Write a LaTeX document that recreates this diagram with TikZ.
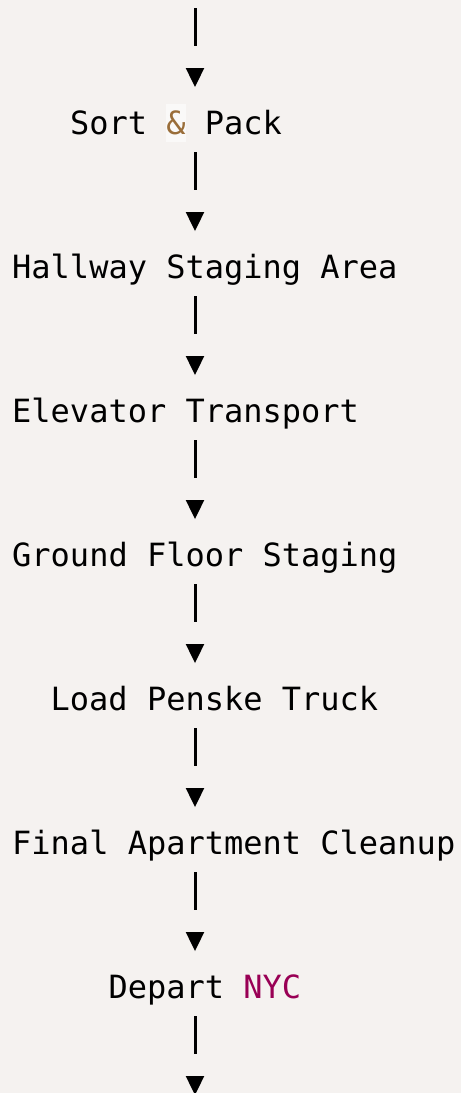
\documentclass[tikz,border=0pt]{standalone}
\usepackage{fontspec}
\setmonofont{DejaVu Sans Mono}
\usetikzlibrary{arrows.meta}
\definecolor{codebg}{HTML}{F5F2F0}
\definecolor{opclr}{HTML}{9A6E3A}
\definecolor{opbg}{HTML}{FAF9F8}
\definecolor{constclr}{HTML}{990055}

\begin{document}
\begin{tikzpicture}[x=1pt,y=-1pt,
  stage/.style={anchor=base west,inner sep=0pt,font=\ttfamily\fontsize{32}{38}\selectfont},
  link/.style={line width=3pt,dash pattern=on 38pt off 200pt,shorten <=18pt,shorten >=47pt,
    -{Triangle[length=19pt,width=18.6pt,line width=0pt]}}]
	\fill[codebg] (0,0) rectangle (461,1093);
	\useasboundingbox (0,0) rectangle (461,1093);
	\coordinate (spine) at (195,0);
	\coordinate (top) at (195,-10);
	\node[stage] (sort) at (69.8,134) {Sort {\setlength\fboxsep{0pt}\colorbox{opbg}{\rule[-8pt]{0pt}{38pt}\color{opclr}\&}} Pack};
	\node[stage] (hallway) at (12,278) {Hallway Staging Area};
	\node[stage] (elevator) at (12,422) {Elevator Transport};
	\node[stage] (ground) at (12,566) {Ground Floor Staging};
	\node[stage] (load) at (50.5,710) {Load Penske Truck};
	\node[stage] (cleanup) at (12,854) {Final Apartment Cleanup};
	\node[stage] (depart) at (108.3,998) {Depart {\color{constclr}NYC}};
	\coordinate (bottom) at (195,1142);
	\draw[link] (top) -- (sort.base -| spine);
	\draw[link] (sort.base -| spine) -- (hallway.base -| spine);
	\draw[link] (hallway.base -| spine) -- (elevator.base -| spine);
	\draw[link] (elevator.base -| spine) -- (ground.base -| spine);
	\draw[link] (ground.base -| spine) -- (load.base -| spine);
	\draw[link] (load.base -| spine) -- (cleanup.base -| spine);
	\draw[link] (cleanup.base -| spine) -- (depart.base -| spine);
	\draw[link] (depart.base -| spine) -- (bottom);
\end{tikzpicture}
\end{document}
